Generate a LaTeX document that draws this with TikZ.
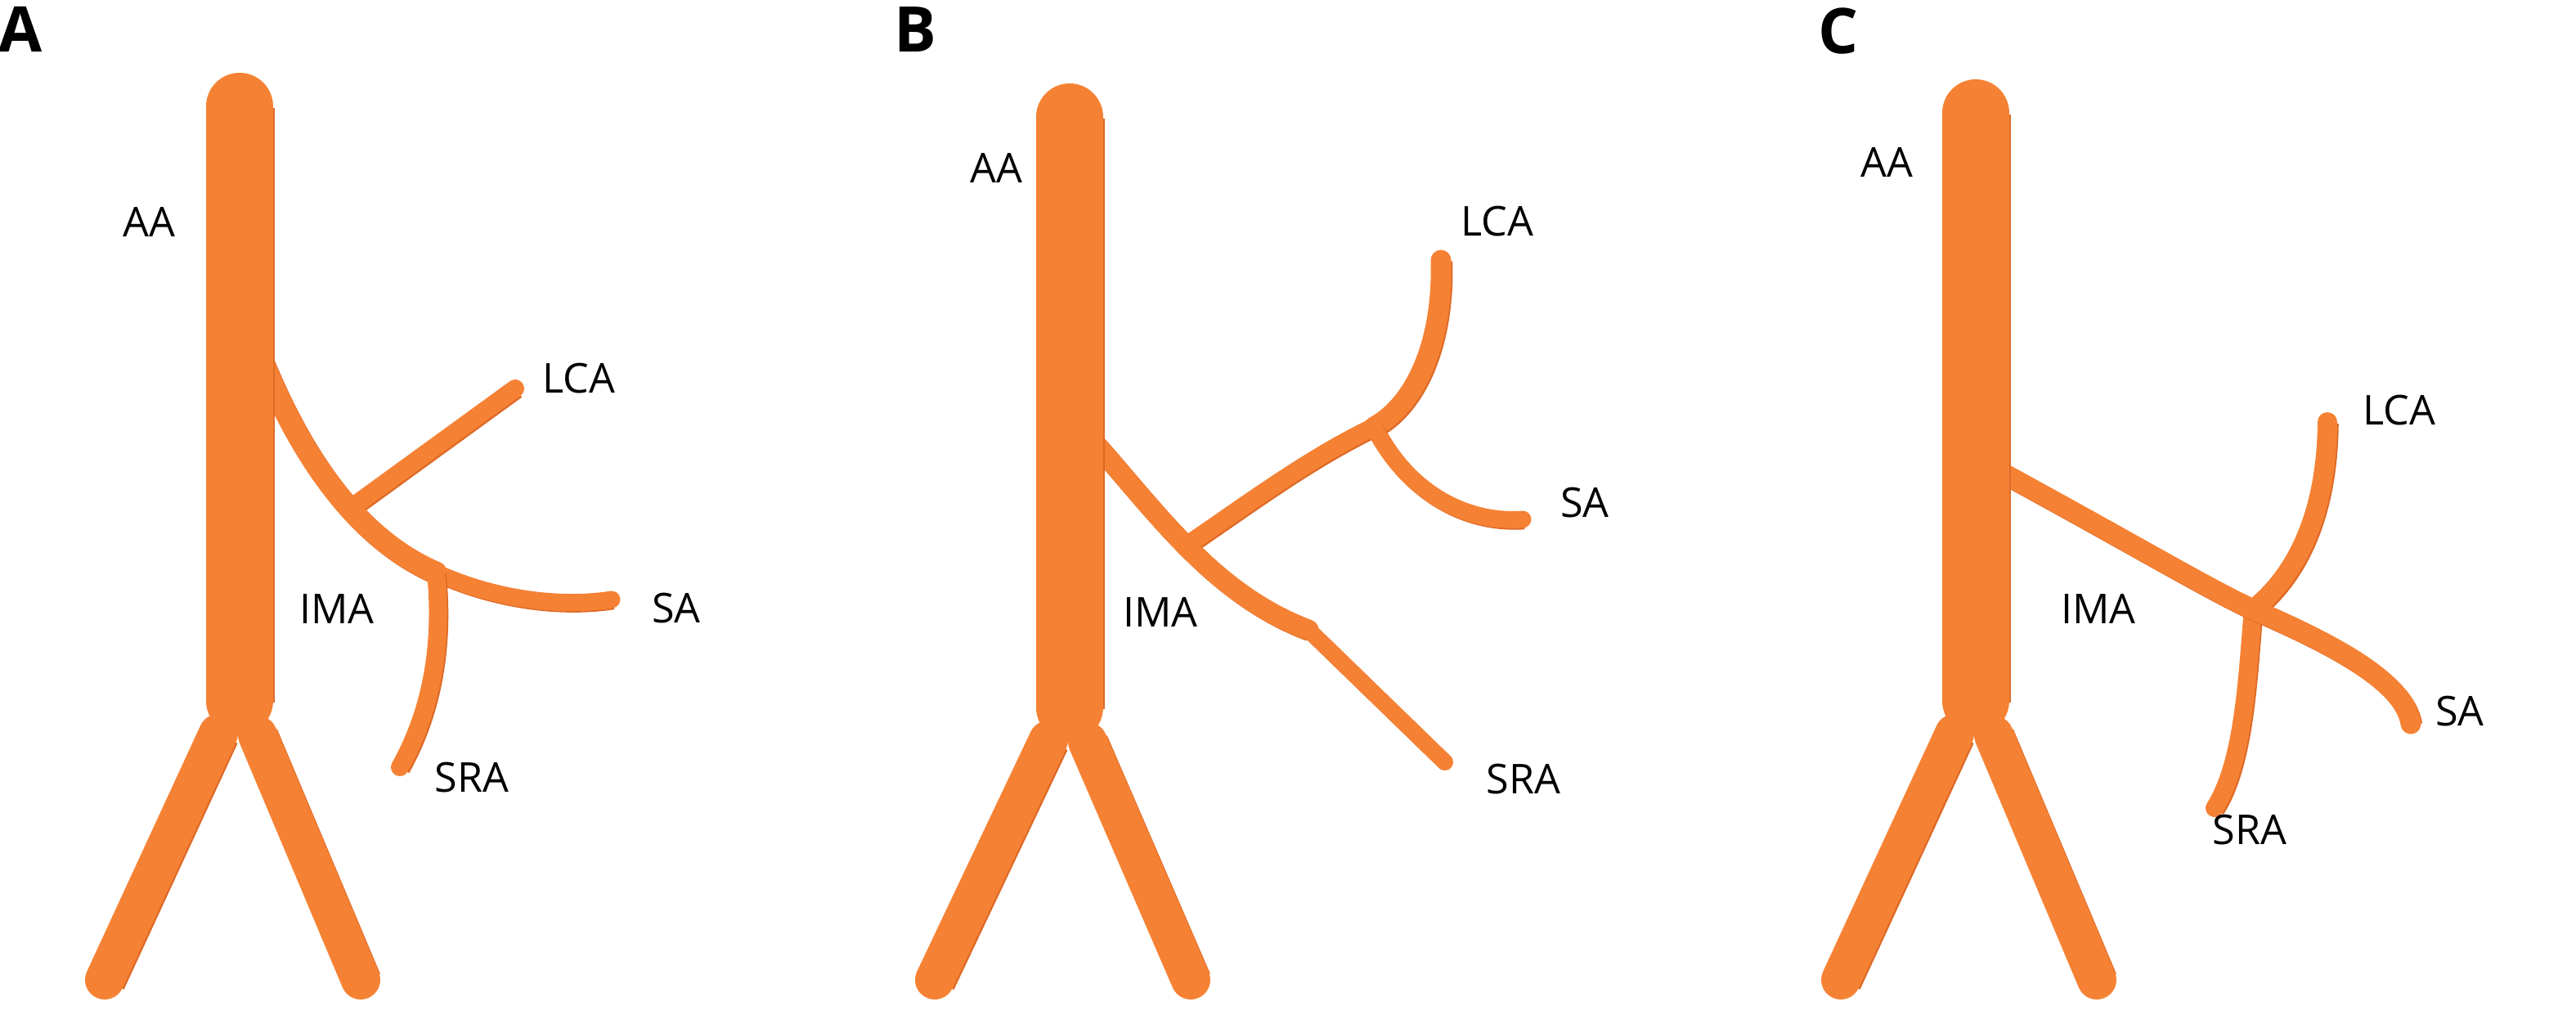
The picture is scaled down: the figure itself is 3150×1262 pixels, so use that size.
\documentclass[tikz,border=0pt]{standalone}
\usepackage{fontspec}
\setmainfont{Open Sans}
\usepackage{xcolor}
\usepackage{tikz}
\definecolor{vesselorange}{RGB}{245,130,52}
\definecolor{vesselshade}{RGB}{222,106,40}

\begin{document}
\begin{tikzpicture}[x=0.01cm, y=-0.01cm,
	vessel/.style={draw=vesselorange, line width=#1, line cap=round,
		preaction={draw=vesselshade, line width=#1, transform canvas={xshift=0.5pt, yshift=-0.5pt}}},
	lbl/.style={inner sep=0pt, font=\fontsize{14.3}{17}\selectfont},
	panellbl/.style={inner sep=0pt, font=\fontsize{21.9}{26}\selectfont\bfseries}]
			\useasboundingbox (0,0) rectangle (3150,1262);
			% Hình A
			\coordinate (A-ima) at (322,445);
			\coordinate (A-x) at (429,621);
			\coordinate (A-j) at (533,700);
			\draw [vessel=0.22cm] (A-x) -- (630,475) coordinate (A-lca);
			\draw [vessel=0.27cm] (A-ima) .. controls (372,565) and (440,660) .. (A-j);
			\draw [vessel=0.21cm] (A-j) .. controls (610,735) and (690,742) .. (748,733) coordinate (A-sa);
			\draw [vessel=0.22cm] (A-j) .. controls (542,790) and (527,870) .. (489,938) coordinate (A-sra);
			\node [panellbl] (A-tag) at (25,36) {A};
			\node [lbl] (A-AA) at (182,271) {AA};
			\node [lbl] (A-LCA) at (708,463) {LCA};
			\node [lbl] (A-SA) at (827,744) {SA};
			\node [lbl] (A-IMA) at (412,744) {IMA};
			\node [lbl] (A-SRA) at (577,951) {SRA};
			% Hình B
			\coordinate (B-ima) at (1330,532);
			\coordinate (B-x) at (1449,668);
			\coordinate (B-j) at (1600,770);
			\coordinate (B-k) at (1680,522);
			\draw [vessel=0.22cm] (B-x) .. controls (1520,620) and (1600,560) .. (B-k);
			\draw [vessel=0.25cm] (B-k) .. controls (1730,495) and (1765,420) .. (1762,318) coordinate (B-lca);
			\draw [vessel=0.21cm] (B-k) .. controls (1720,600) and (1790,640) .. (1862,635) coordinate (B-sa);
			\draw [vessel=0.25cm] (B-ima) .. controls (1410,620) and (1480,725) .. (B-j);
			\draw [vessel=0.20cm] (B-j) -- (1767,932) coordinate (B-sra);
			\node [panellbl] (B-tag) at (1119,36) {B};
			\node [lbl] (B-AA) at (1218,205) {AA};
			\node [lbl] (B-LCA) at (1831,271) {LCA};
			\node [lbl] (B-SA) at (1938,615) {SA};
			\node [lbl] (B-IMA) at (1419,748) {IMA};
			\node [lbl] (B-SRA) at (1863,953) {SRA};
			% Hình C
			\coordinate (C-ima) at (2430,568);
			\coordinate (C-x) at (2755,745);
			\draw [vessel=0.24cm] (C-x) .. controls (2800,710) and (2845,640) .. (2846,516) coordinate (C-lca);
			\draw [vessel=0.22cm] (C-x) .. controls (2748,820) and (2745,930) .. (2708,988) coordinate (C-sra);
			\draw [vessel=0.25cm] (C-ima) .. controls (2600,660) and (2700,720) .. (C-x)
				.. controls (2840,782) and (2940,830) .. (2948,885) coordinate (C-sa);
			\node [panellbl] (C-tag) at (2248,38) {C};
			\node [lbl] (C-AA) at (2307,198) {AA};
			\node [lbl] (C-LCA) at (2934,502) {LCA};
			\node [lbl] (C-SA) at (3008,870) {SA};
			\node [lbl] (C-IMA) at (2566,744) {IMA};
			\node [lbl] (C-SRA) at (2751,1015) {SRA};
			% Vẽ động mạch chủ và hai chân
			\foreach \x/\t/\b in {293/130/857, 1308/143/865, 2416/138/857}
			{
			\draw [vessel=0.48cm] (\x-26,\b+40) -- (\x-165,1198);
			\draw [vessel=0.48cm] (\x+22,\b+42) -- (\x+148,1198);
			\draw [vessel=0.82cm] (\x,\t) -- (\x,\b);
			}
		\end{tikzpicture}
\end{document}
